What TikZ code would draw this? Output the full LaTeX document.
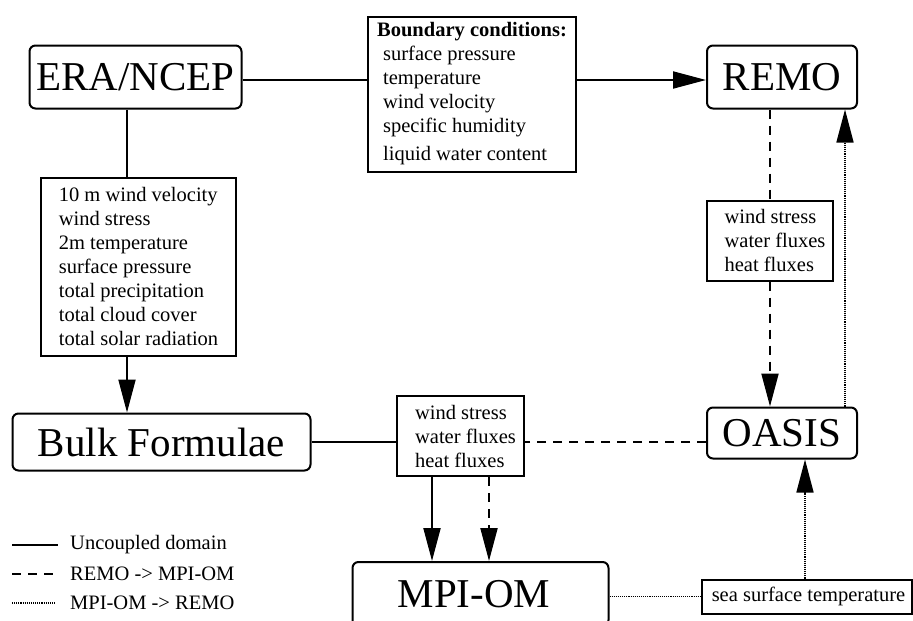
\documentclass[tikz,border=0pt]{standalone}
\usepackage{fontspec}
\setmainfont{Liberation Serif}
\usetikzlibrary{arrows.meta}
\begin{document}
\begin{tikzpicture}[x=1pt,y=-1pt,
  big/.style={draw, line width=2pt, rounded corners=6pt,
    font=\fontsize{41}{49}\selectfont, inner sep=0pt},
  info/.style={draw, line width=2pt, font=\fontsize{20.5}{24}\selectfont,
    align=left, inner sep=0pt},
  legtext/.style={font=\fontsize{20.5}{24}\selectfont, anchor=west, inner sep=0pt},
  link/.style={line width=2pt},
  dsh/.style={line width=2pt, dash pattern=on 9pt off 7pt},
  dts/.style={line width=1.5pt, dash pattern=on 1.1pt off 1pt},
  tip/.style={-{Triangle[length=33pt,width=17pt]}},
]
\clip (0,0) rectangle (913,621);

% model components
\node[big, minimum width=212pt, minimum height=63pt] (era)   at (135.5,77)  {ERA/NCEP};
\node[big, minimum width=150pt, minimum height=63pt] (remo)  at (782,77)    {REMO};
\node[big, minimum width=298pt, minimum height=57pt] (bulk)  at (161.5,442) {Bulk Formulae};
\node[big, minimum width=150pt, minimum height=51pt] (oasis) at (782,433)   {OASIS};
\node[big, minimum width=256pt, minimum height=64pt] (mpiom) at (480.5,594) {MPI-OM\hspace*{13pt}};

% exchanged fields
\node[info, minimum width=208pt, minimum height=155pt] (bnd) at (472,94)
  {\textbf{Boundary conditions:}\\
   \hspace*{6pt}surface pressure\\
   \hspace*{6pt}temperature\\
   \hspace*{6pt}wind velocity\\
   \hspace*{6pt}specific humidity\\[4pt]
   \hspace*{6pt}liquid water content};
\node[info, minimum width=195pt, minimum height=178pt] (vars) at (138.5,266.5)
  {10 m wind velocity\\
   wind stress\\
   2m temperature\\
   surface pressure\\
   total precipitation\\
   total cloud cover\\
   total solar radiation};
\node[info, minimum width=126pt, minimum height=80pt] (fluxr) at (770,240.5)
  {\hspace*{10pt}wind stress\\
   \hspace*{10pt}water fluxes\\
   \hspace*{10pt}heat fluxes};
\node[info, minimum width=127pt, minimum height=80pt] (fluxm) at (460.5,436)
  {\hspace*{10pt}wind stress\\
   \hspace*{10pt}water fluxes\\
   \hspace*{10pt}heat fluxes};
\node[info, minimum width=210pt, minimum height=34pt] (sst) at (806.5,596.5)
  {\hspace*{4pt}sea surface temperature};

% connector columns and rows
\coordinate (xera)  at (127,80);
\coordinate (xsol)  at (432,0);
\coordinate (xdsh)  at (489,0);
\coordinate (xup)   at (845,0);
\coordinate (xsst)  at (805,0);
\coordinate (ymid)  at (0,442);

% uncoupled domain
\draw[link] (xera -| era.east) -- (xera -| bnd.west);
\draw[link, tip] (xera -| bnd.east) -- (xera -| remo.west);
\draw[link] (era.south -| xera) -- (vars.north -| xera);
\draw[link, tip] (vars.south -| xera) -- (bulk.north -| xera);
\draw[link] (ymid -| bulk.east) -- (ymid -| fluxm.west);
\draw[link, tip] (fluxm.south -| xsol) -- (mpiom.north -| xsol);

% REMO -> MPI-OM
\draw[dsh] (remo.south -| fluxr.north) -- (fluxr.north);
\draw[dsh, tip] (fluxr.south) -- (fluxr.south |- oasis.north);
\draw[dsh] (ymid -| oasis.west) -- (ymid -| fluxm.east);
\draw[dsh, tip] (fluxm.south -| xdsh) -- (mpiom.north -| xdsh);

% MPI-OM -> REMO
\draw[dts] (sst.west -| mpiom.east) -- (sst.west);
\draw[dts, tip] (sst.north -| xsst) -- (oasis.south -| xsst);
\draw[dts, tip] (oasis.north -| xup) -- (remo.south -| xup);

% legend
\coordinate (la1) at (12,545); \coordinate (lb1) at (58,545);
\coordinate (la2) at (12,574); \coordinate (lb2) at (58,574);
\coordinate (la3) at (12,603); \coordinate (lb3) at (56,603);
\draw[link] (la1) -- (lb1);
\draw[line width=2pt, dash pattern=on 9pt off 7pt] (la2) -- (lb2);
\draw[dts] (la3) -- (lb3);
\node[legtext] (leg1) at (70,545) {Uncoupled domain};
\node[legtext] (leg2) at (70,574) {REMO -> MPI-OM};
\node[legtext] (leg3) at (70,603) {MPI-OM -> REMO};
\end{tikzpicture}
\end{document}
